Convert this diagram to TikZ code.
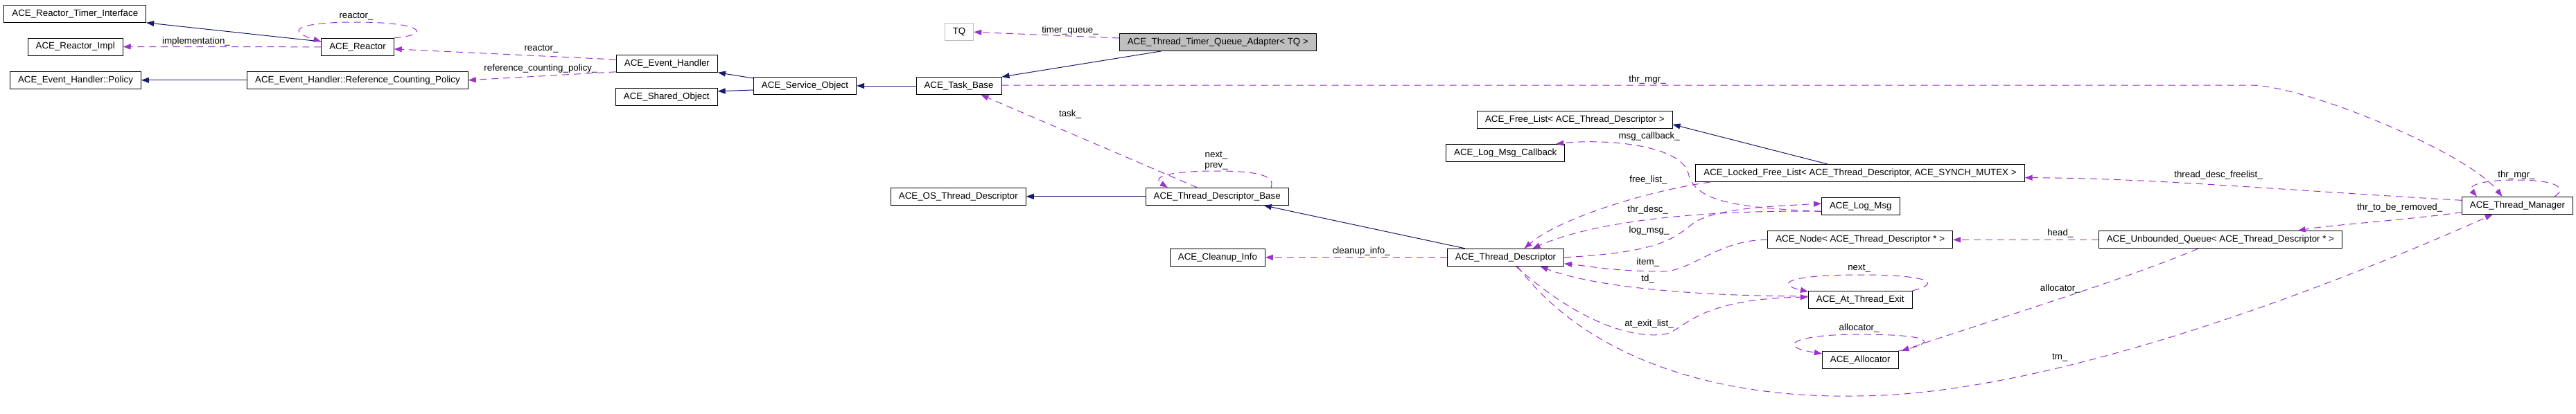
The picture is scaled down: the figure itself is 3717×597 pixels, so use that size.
\documentclass[tikz,border=0pt]{standalone}
\usepackage{fontspec}
\setmainfont{Liberation Sans}
\usetikzlibrary{arrows.meta}
\definecolor{dxblue}{HTML}{191970}
\definecolor{dxpurple}{HTML}{9A32CD}
\definecolor{dxgray}{HTML}{BFBFBF}
\newcommand\dxfont{\fontsize{13.33}{15}\selectfont}

\begin{document}
\begin{tikzpicture}[x=1pt, y=-1pt,
    cls/.style={draw, line width=1pt, minimum height=25pt, inner xsep=11.5pt, inner ysep=0pt, font=\dxfont},
    lbl/.style={inner sep=0pt, align=center, font=\dxfont},
    inherit/.style={draw=dxblue, line width=1pt, -{Triangle[length=11pt, width=8pt]}},
    uses/.style={draw=dxpurple, line width=1pt, dash pattern=on 10pt off 7pt, -{Triangle[length=11pt, width=8pt]}}]
    \useasboundingbox (0,0) rectangle (3717,597);

    \node[cls] (rti) at (108.3,19.8) {ACE\_Reactor\_Timer\_Interface};
    \node[cls] (rimpl) at (108.7,67.5) {ACE\_Reactor\_Impl};
    \node[cls] (reactor) at (516,67.8) {ACE\_Reactor};
    \node[cls] (policy) at (109,115.8) {ACE\_Event\_Handler::Policy};
    \node[cls] (refcnt) at (516,115.8) {ACE\_Event\_Handler::Reference\_Counting\_Policy};
    \node[cls] (evh) at (962.4,91.8) {ACE\_Event\_Handler};
    \node[cls] (shobj) at (961.8,139.8) {ACE\_Shared\_Object};
    \node[cls] (svcobj) at (1161.5,124) {ACE\_Service\_Object};
    \node[cls, draw=dxgray] (tq) at (1384,46.3) {TQ};
    \node[cls, fill=dxgray] (adapter) at (1757.3,60.8) {ACE\_Thread\_Timer\_Queue\_Adapter< TQ >};
    \node[cls] (taskb) at (1383.5,124) {ACE\_Task\_Base};
    \node[cls] (freel) at (2272.3,172.8) {ACE\_Free\_List< ACE\_Thread\_Descriptor >};
    \node[cls] (lmcb) at (2172.3,220.7) {ACE\_Log\_Msg\_Callback};
    \node[cls] (lfl) at (2684,250) {ACE\_Locked\_Free\_List< ACE\_Thread\_Descriptor, ACE\_SYNCH\_MUTEX >};
    \node[cls] (tmgr) at (3632.4,296.8) {ACE\_Thread\_Manager};
    \node[cls] (uq) at (3203.9,346.3) {ACE\_Unbounded\_Queue< ACE\_Thread\_Descriptor * >};
    \node[cls] (ostd) at (1382.8,283.8) {ACE\_OS\_Thread\_Descriptor};
    \node[cls] (tdb) at (1756.2,283.8) {ACE\_Thread\_Descriptor\_Base};
    \node[cls] (cinfo) at (1756.9,371.8) {ACE\_Cleanup\_Info};
    \node[cls] (td) at (2172.5,371.8) {ACE\_Thread\_Descriptor};
    \node[cls] (logmsg) at (2684.8,298.3) {ACE\_Log\_Msg};
    \node[cls] (anode) at (2684.2,346.3) {ACE\_Node< ACE\_Thread\_Descriptor * >};
    \node[cls] (ate) at (2684.2,432.8) {ACE\_At\_Thread\_Exit};
    \node[cls] (alloc) at (2684.2,519.8) {ACE\_Allocator};

    \draw[inherit] ([yshift=7.8pt]reactor.west) -- (rti.south east);
    \draw[inherit] (refcnt.west) -- (policy.east);
    \draw[inherit] ([yshift=-2pt]svcobj.north west) -- (evh.south east);
    \draw[inherit] ([yshift=-6pt]svcobj.west) -- ([yshift=8pt]shobj.east);
    \draw[inherit] (taskb.west) -- (svcobj.east);
    \draw[inherit] ([xshift=-81pt]adapter.south) -- (taskb.north east);
    \draw[inherit] (tdb.west) -- (ostd.east);
    \draw[inherit] ([xshift=-58.7pt]td.north) -- ([xshift=67.5pt]tdb.south);
    \draw[inherit] ([xshift=-47pt]lfl.north) -- ([yshift=-7pt]freel.east);

    \draw[uses] (reactor.west) -- (rimpl.east)
        node[lbl] at (283,60) {implementation\_};
    \draw[uses] (reactor.north east) .. controls (625,50) and (610,32) .. (514,32)
        .. controls (440,32) and (405,42) .. ([yshift=7.8pt]reactor.west)
        node[lbl] at (514,24) {reactor\_};
    \draw[uses] ([yshift=5.8pt]evh.west) -- ([yshift=-3pt]reactor.east)
        node[lbl] at (781,71) {reactor\_};
    \draw[uses] ([yshift=-12pt]evh.west) -- (refcnt.east)
        node[lbl] at (780,99) {reference\_counting\_policy\_};
    \draw[uses] ([yshift=5.8pt]adapter.west) -- (tq.east)
        node[lbl] at (1544,44) {timer\_queue\_};
    \draw[uses] ([yshift=1pt]taskb.east) -- (3249,123) .. controls (3330,125) and (3560,220) .. ([xshift=-22pt]tmgr.north)
        node[lbl] at (2377,115) {thr\_mgr\_};
    \draw[uses] ([xshift=53.6pt]tmgr.north) .. controls (3705,272) and (3690,260) .. (3631,260)
        .. controls (3580,260) and (3560,268) .. ([xshift=-58.4pt]tmgr.north)
        node[lbl] at (3631,252.7) {thr\_mgr\_};
    \draw[uses] ([xshift=-29pt]tdb.north) -- ([xshift=32pt]taskb.south)
        node[lbl] at (1544,165) {task\_};
    \draw[uses] ([xshift=77.8pt]tdb.north) .. controls (1840,255) and (1820,247) .. (1755,247)
        .. controls (1690,247) and (1660,255) .. ([xshift=-71.4pt]tdb.north)
        node[lbl] at (1755,232.5) {next\_\\prev\_};
    \draw[uses] (td.west) -- (cinfo.east)
        node[lbl] at (1964.3,362.7) {cleanup\_info\_};
    \draw[uses] ([yshift=7.5pt]tmgr.west) .. controls (3300,275) and (3100,257) .. ([yshift=-6.7pt]lfl.east)
        node[lbl] at (3201,252.7) {thread\_desc\_freelist\_};
    \draw[uses] ([yshift=-10pt]tmgr.west) .. controls (3450,320) and (3360,325) .. ([xshift=111.6pt]uq.north)
        node[lbl] at (3462.7,300) {thr\_to\_be\_removed\_};
    \draw[uses] ([xshift=17pt]td.south) .. controls (2300,530) and (2500,575) .. (2677,572)
        .. controls (2950,572) and (3350,420) .. ([xshift=-35.7pt]tmgr.south)
        node[lbl] at (2972.3,516.7) {tm\_};
    \draw[uses] (uq.west) -- (anode.east)
        node[lbl] at (2972.8,336.7) {head\_};
    \draw[uses] ([xshift=-32.4pt]uq.south) .. controls (3050,410) and (2850,470) .. ([xshift=59.5pt]alloc.north)
        node[lbl] at (2972.8,416.7) {allocator\_};
    \draw[uses] (alloc.north east) .. controls (2800,495) and (2790,483) .. (2682,483)
        .. controls (2590,483) and (2560,500) .. ([yshift=-4pt]alloc.north west)
        node[lbl] at (2682.6,474.3) {allocator\_};
    \draw[uses] (ate.north east) .. controls (2800,410) and (2790,397) .. (2683,397)
        .. controls (2580,397) and (2560,410) .. ([yshift=-1.5pt]ate.north west)
        node[lbl] at (2682.6,387.7) {next\_};
    \draw[uses] ([xshift=15pt]td.south) .. controls (2260,450) and (2340,490) .. (2400,483)
        .. controls (2430,480) and (2440,432) .. ([yshift=3.8pt]ate.west)
        node[lbl] at (2379.5,468.3) {at\_exit\_list\_};
    \draw[uses] ([yshift=5pt]ate.west) .. controls (2450,428) and (2300,415) .. ([xshift=50pt]td.south)
        node[lbl] at (2377.7,403.3) {td\_};
    \draw[uses] (anode.west) .. controls (2480,346) and (2440,392) .. (2400,392)
        .. controls (2330,392) and (2290,384) .. ([yshift=-9pt]td.east)
        node[lbl] at (2377.7,378.7) {item\_};
    \draw[uses] (td.east) .. controls (2380,365) and (2410,350) .. (2440,325)
        .. controls (2470,300) and (2560,298) .. ([yshift=4.3pt]logmsg.west)
        node[lbl] at (2379.6,332.7) {log\_msg\_};
    \draw[uses] ([yshift=-7pt]logmsg.west) .. controls (2450,303) and (2300,320) .. ([xshift=39pt]td.north)
        node[lbl] at (2377.7,303.3) {thr\_desc\_};
    \draw[uses] ([xshift=-216pt]lfl.south) .. controls (2380,275) and (2250,315) .. ([xshift=27pt]td.north)
        node[lbl] at (2378.5,260) {free\_list\_};
    \draw[uses] ([yshift=-7pt]logmsg.west) .. controls (2500,300) and (2445,290) .. (2436,250)
        .. controls (2425,210) and (2320,200) .. ([xshift=73pt]lmcb.north)
        node[lbl] at (2379.6,196.7) {msg\_callback\_};
\end{tikzpicture}
\end{document}
